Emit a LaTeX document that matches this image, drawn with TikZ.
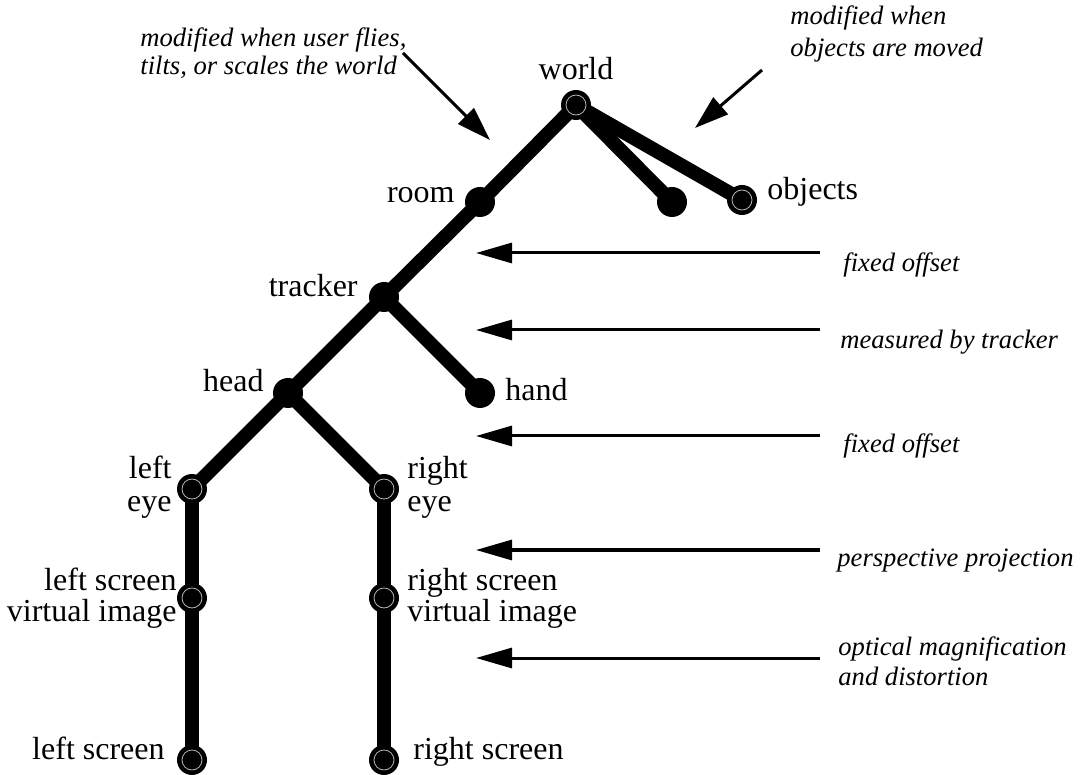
\documentclass[tikz,border=0pt]{standalone}
\usepackage{fontspec}
\setmainfont{Liberation Serif}
\usetikzlibrary{arrows.meta}
\pgfdeclarelayer{background}
\pgfsetlayers{background,main}
\tikzset{
  dot/.style={circle,fill=black,minimum size=15pt,inner sep=0pt},
  ringdot/.style={dot,path picture={\draw[gray!45,line width=0.35pt] (path picture bounding box.center) circle (5pt);}},
  edge/.style={line width=7pt,line cap=round},
  lbl/.style={font=\fontsize{16pt}{16pt}\selectfont,inner sep=0pt},
  note/.style={font=\fontsize{13.3pt}{15pt}\selectfont\itshape,inner sep=0pt,align=left},
  pointer/.style={line width=1.5pt,-{Triangle[length=18pt,width=10pt]}},
  slant/.style={line width=1.5pt,-{Triangle[length=17pt,width=11pt]}}
}
\begin{document}
\begin{tikzpicture}[x=0.5pt,y=-0.5pt]
\useasboundingbox (0,0) rectangle (1083,775);
% nodes
\node[ringdot] (world) at (576,105) {};
\node[dot] (room) at (480,202) {};
\node[dot] (unnamed) at (672,202) {};
\node[ringdot] (objects) at (742,200) {};
\node[dot] (tracker) at (384,297) {};
\node[dot] (hand) at (480,393) {};
\node[dot] (head) at (288,393) {};
\node[ringdot] (leye) at (192,489) {};
\node[ringdot] (reye) at (384,489) {};
\node[ringdot] (lsvi) at (192,598) {};
\node[ringdot] (rsvi) at (384,598) {};
\node[ringdot] (ls) at (192,760) {};
\node[ringdot] (rs) at (384,760) {};
% edges
\begin{pgfonlayer}{background}
\draw[edge] (world.center) -- (room.center);
\draw[edge] (world.center) -- (unnamed.center);
\draw[edge] (world.center) -- (objects.center);
\draw[edge] (room.center) -- (tracker.center);
\draw[edge] (tracker.center) -- (head.center);
\draw[edge] (tracker.center) -- (hand.center);
\draw[edge] (head.center) -- (leye.center);
\draw[edge] (head.center) -- (reye.center);
\draw[edge] (leye.center) -- (lsvi.center);
\draw[edge] (lsvi.center) -- (ls.center);
\draw[edge] (reye.center) -- (rsvi.center);
\draw[edge] (rsvi.center) -- (rs.center);
\end{pgfonlayer}
% labels
\node[lbl,anchor=base] (tworld) at (576,80) {world};
\node[lbl,anchor=base east] (troom) at (455,203) {room};
\node[lbl,anchor=base west] (tobjects) at (767,200) {objects};
\node[lbl,anchor=base east] (ttracker) at (358,297) {tracker};
\node[lbl,anchor=base west] (thand) at (505,401) {hand};
\node[lbl,anchor=base east] (thead) at (264,392) {head};
\node[lbl,anchor=base east] (tleye) at (172,479) {left};
\node[lbl,anchor=base east] (tleye2) at (172,511) {eye};
\node[lbl,anchor=base west] (treye) at (407,479) {right};
\node[lbl,anchor=base west] (treye2) at (407,511) {eye};
\node[lbl,anchor=base east] (tlsvi) at (177,590) {left screen};
\node[lbl,anchor=base east] (tlsvi2) at (177,621) {virtual image};
\node[lbl,anchor=base west] (trsvi) at (407,590) {right screen};
\node[lbl,anchor=base west] (trsvi2) at (407,621) {virtual image};
\node[lbl,anchor=base east] (tls) at (165,759) {left screen};
\node[lbl,anchor=base west] (trs) at (413,759) {right screen};
% right-side notes and arrows
\node[note,anchor=base west] (n1) at (843,272) {fixed offset};
\node[note,anchor=base west] (n2) at (840,349) {measured by tracker};
\node[note,anchor=base west] (n3) at (843,453) {fixed offset};
\node[note,anchor=base west] (n4) at (837,567) {perspective projection};
\node[note,anchor=base west] (n5) at (838,655) {optical magnification};
\node[note,anchor=base west] (n5b) at (838,685) {and distortion};
\coordinate (a1s) at (820,253); \coordinate (a1e) at (476,253);
\coordinate (a2s) at (820,330); \coordinate (a2e) at (476,330);
\coordinate (a3s) at (820,436); \coordinate (a3e) at (476,436);
\coordinate (a4s) at (820,550); \coordinate (a4e) at (476,550);
\coordinate (a5s) at (820,658); \coordinate (a5e) at (476,658);
\draw[pointer] (a1s) -- (a1e);
\draw[pointer] (a2s) -- (a2e);
\draw[pointer] (a3s) -- (a3e);
\draw[pointer] (a4s) -- (a4e);
\draw[pointer] (a5s) -- (a5e);
% top notes
\node[note,anchor=base west] (t1) at (140,47) {modified when user flies,};
\node[note,anchor=base west] (t1b) at (140,75) {tilts, or scales the world};
\node[note,anchor=base west] (t2) at (790,25) {modified when};
\node[note,anchor=base west] (t2b) at (790,57) {objects are moved};
\coordinate (b1s) at (403,53); \coordinate (b1e) at (490,140);
\coordinate (b2s) at (762,70); \coordinate (b2e) at (695,128);
\draw[slant] (b1s) -- (b1e);
\draw[slant] (b2s) -- (b2e);
\end{tikzpicture}
\end{document}
